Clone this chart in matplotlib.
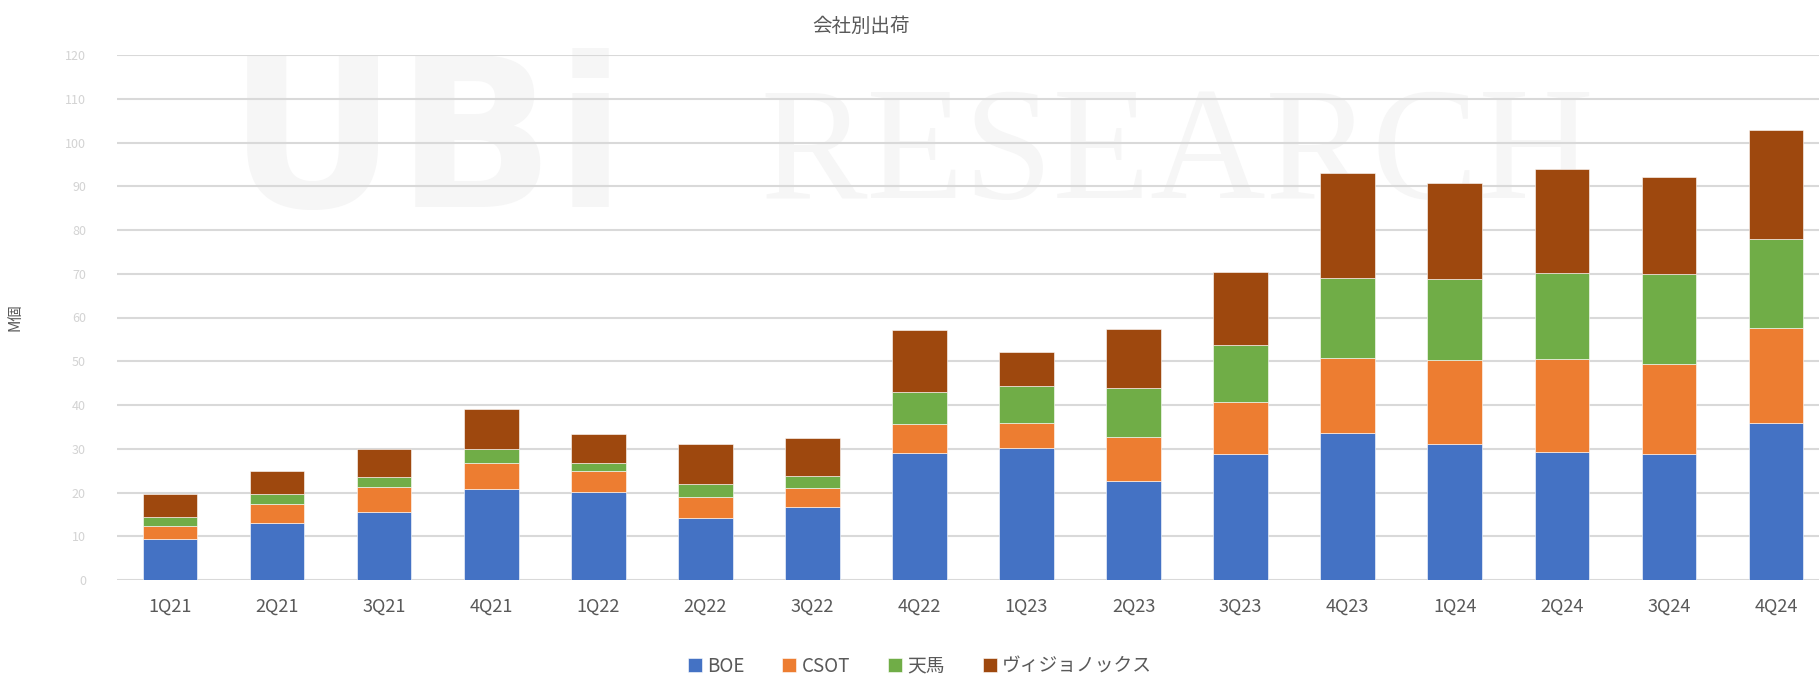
import matplotlib.pyplot as plt
import numpy as np

plt.rcParams['font.family'] = ['Noto Sans CJK JP', 'DejaVu Sans']

quarters = ['1Q21', '2Q21', '3Q21', '4Q21', '1Q22', '2Q22', '3Q22', '4Q22',
            '1Q23', '2Q23', '3Q23', '4Q23', '1Q24', '2Q24', '3Q24', '4Q24']
boe = [9.4, 13.0, 15.5, 20.8, 20.2, 14.1, 16.8, 29.0,
       30.1, 22.7, 28.7, 33.7, 31.0, 29.2, 28.9, 35.8]
csot = [2.9, 4.4, 5.8, 5.9, 4.8, 4.9, 4.3, 6.7,
        5.7, 10.1, 12.1, 17.1, 19.2, 21.4, 20.5, 21.7]
tianma = [2.2, 2.2, 2.2, 3.2, 1.7, 2.9, 2.6, 7.3,
          8.5, 11.2, 12.9, 18.3, 18.6, 19.6, 20.5, 20.4]
visionox = [5.1, 5.4, 6.4, 9.3, 6.6, 9.1, 8.8, 14.2,
            7.8, 13.4, 16.6, 24.0, 21.9, 23.7, 22.2, 25.0]

series = ['BOE', 'CSOT', '天馬', 'ヴィジョノックス']
colors = ['#4472C4', '#ED7D31', '#70AD47', '#9E480E']
y_ticks = np.arange(0, 130, 10)

fig = plt.figure(figsize=(18.19, 6.76), dpi=100)
ax = fig.add_axes([116.5 / 1819, 96 / 676, 1713 / 1819, 525 / 676])

# faint watermark, kept behind grid and bars
ax.text(0.418, 0.765, 'RESEARCH', fontsize=115, family='Liberation Serif',
        color='#f6f6f6', ha='left', va='center', zorder=0.1,
        transform=fig.transFigure, clip_on=False)
ax.text(0.125, 0.78, 'UBi', fontsize=150, family='DejaVu Sans', weight='bold',
        color='#f6f6f6', ha='left', va='center', zorder=0.1,
        transform=fig.transFigure, clip_on=False)

x = np.arange(len(quarters))
bottom = np.zeros(len(quarters))
for name, vals, c in zip(series, [boe, csot, tianma, visionox], colors):
    ax.bar(x, vals, width=0.51, bottom=bottom, color=c, label=name,
           edgecolor='white', linewidth=0.4, zorder=3)
    bottom += np.array(vals)

ax.set_xlim(-0.5, len(quarters) - 0.5)
ax.set_ylim(0, 120)
ax.set_yticks(y_ticks)
ax.set_yticklabels([str(v) for v in y_ticks], color='#d3d3d3', fontsize=9)
ax.yaxis.grid(True, color='#d9d9d9', linewidth=1.5, zorder=0.5)
ax.set_axisbelow(True)
ax.set_xticks(x)
ax.set_xticklabels(quarters, fontsize=13, color='#595959')
ax.tick_params(axis='both', length=0)
ax.tick_params(axis='x', pad=13)
ax.tick_params(axis='y', pad=22)
for s in ax.spines.values():
    s.set_visible(False)

ax.set_ylabel('M個', fontsize=11, color='#595959')
ax.yaxis.set_label_coords(-93 / 1713, 0.5)

fig.text(861 / 1819, 1 - 26 / 676, '会社別出荷', fontsize=14, color='#595959',
         ha='center', va='center')

leg = fig.legend(loc='center', bbox_to_anchor=(920 / 1819, 1 - 666 / 676),
                 ncol=4, frameon=False, fontsize=13.5, handlelength=0.75,
                 handleheight=0.75, handletextpad=0.3, columnspacing=2.0)
for t in leg.get_texts():
    t.set_color('#595959')

fig.savefig('out.png', dpi=100)
